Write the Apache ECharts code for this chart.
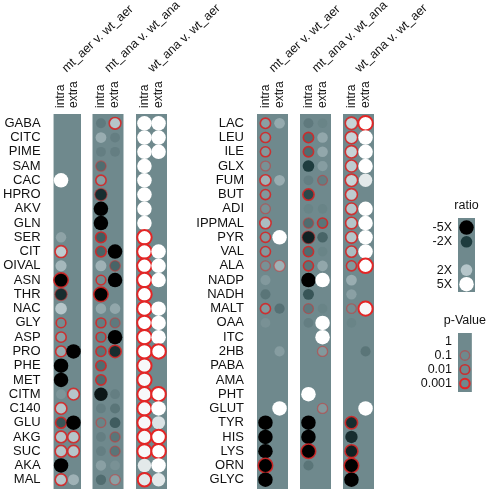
<!DOCTYPE html>
<html><head><meta charset="utf-8">
<script src="https://cdn.jsdelivr.net/npm/echarts@6/dist/echarts.min.js"></script>
<style>html,body{margin:0;padding:0;background:#fff}#c{width:488px;height:490px}</style>
</head><body><div id="c"></div>
<script>
// ---------- categories ----------
const leftRows = ['GABA','CITC','PIME','SAM','CAC','HPRO','AKV','GLN','SER','CIT','OIVAL','ASN','THR','NAC','GLY','ASP','PRO','PHE','MET','CITM','C140','GLU','AKG','SUC','AKA','MAL'];
const rightRows = ['LAC','LEU','ILE','GLX','FUM','BUT','ADI','IPPMAL','PYR','VAL','ALA','NADP','NADH','MALT','OAA','ITC','2HB','PABA','AMA','PHT','GLUT','TYR','HIS','LYS','ORN','GLYC'];
const panelTitles = ['mt_aer v. wt_aer','mt_ana v. wt_ana','wt_ana v. wt_aer'];
const sampleCols = ['intra','extra'];
const ratioLegendLabels = ['-5X','-2X','','2X','5X'];
const ratioLegendValues = [-5,-2,null,2,5];
const pLegendLabels = ['1','0.1','0.01','0.001'];
const pLegendLevels = [0,1,2,3];

// ratio: fold change [intra, extra] (negative = decrease), null = no circle
// p: significance level [intra, extra]: 0 = n.s., 1 = 0.1, 2 = 0.01, 3 = 0.001
const L1_ratio = [[null,null],[null,null],[null,null],[null,null],[5,null],[null,null],[null,null],[null,null],[1.35,null],[2.2,null],[1.7,null],[-5,null],[-2.5,null],[2,null],[1.05,null],[1.3,null],[1.5,-5],[-5,null],[-5,null],[1.15,2],[2,null],[-1.6,-5],[2,2],[2,2],[-5,null],[2,1.6]];
const L1_p     = [[0,0],[0,0],[0,0],[0,0],[0,0],[0,0],[0,0],[0,0],[0,0],[2,0],[0,0],[2,0],[1,0],[0,0],[2,0],[2,0],[2,0],[0,0],[0,0],[0,2],[2,0],[2,0],[2,2],[2,2],[0,0],[2,0]];
const L2_ratio = [[-1.15,2],[1.5,-1.1],[-1.1,-1.1],[-1.3,null],[1.3,null],[-2.5,null],[-5,null],[-5,null],[-1.5,null],[-1.4,-5],[1.6,-1.4],[1.05,-5],[-5,null],[1.4,1.4],[-1.1,-1.15],[-1.1,-5],[-1.2,-2.5],[-1.3,null],[-1.3,null],[-3.5,-1.1],[-1.1,-1.2],[-1.05,-1.5],[-1.1,-1.2],[-1.1,-1.2],[1.3,1.1],[-1.3,1.3]];
const L2_p     = [[0,2],[0,0],[0,0],[1,0],[2,0],[1,0],[0,0],[0,0],[2,0],[2,0],[0,1],[2,0],[2,0],[0,0],[2,1],[2,0],[2,2],[2,0],[2,0],[0,0],[0,0],[1,0],[0,1],[0,1],[0,0],[0,1]];
const L3_ratio = [[5,5],[5,5],[5,5],[5,null],[5,null],[5,null],[5,null],[5,null],[5,null],[5,5],[5,5],[5,5],[5,null],[5,5],[5,5],[5,5],[5,5],[4.5,null],[4.5,null],[4.5,5],[4.5,5],[4.5,3.2],[4.5,5],[4.5,5],[3.5,5],[3.5,3.5]];
const L3_p     = [[0,0],[0,0],[0,0],[0,0],[0,0],[0,0],[0,0],[0,0],[3,0],[3,0],[3,0],[3,0],[3,0],[3,0],[3,0],[3,0],[3,3],[3,0],[3,0],[3,3],[3,0],[3,0],[3,3],[3,3],[0,0],[3,0]];

const R1_ratio = [[1.3,1.45],[1.2,null],[1.2,null],[1.1,null],[1.6,1.5],[1.2,null],[1.1,null],[1.8,null],[1.2,5],[1.2,null],[1.1,1.6],[1.2,null],[-1.2,null],[1.2,-1.25],[1.1,null],[null,null],[null,1.25],[null,null],[null,null],[null,null],[null,5],[-5,null],[-5,null],[-5,null],[-5,null],[-5,null]];
const R1_p     = [[2,0],[2,0],[2,0],[1,0],[2,0],[2,0],[1,0],[2,0],[2,0],[2,0],[1,1],[0,0],[0,0],[2,0],[0,0],[0,0],[0,0],[0,0],[0,0],[0,0],[0,0],[0,0],[0,0],[0,0],[2,0],[0,0]];
const R2_ratio = [[-1.15,-1.05],[-1.3,1.4],[-1.3,1.4],[-2,1.25],[-1.1,-1.1],[-1.8,null],[-1.05,-1.05],[-1.3,-1.2],[-3,-1.4],[-1.3,-1.05],[-1.2,1.4],[-5,5],[-1.6,null],[-1.15,-1.05],[-1.1,5],[null,5],[null,1.2],[null,null],[null,null],[5,null],[null,1.2],[-5,null],[-5,null],[-5,null],[-1.2,null],[null,null]];
const R2_p     = [[0,0],[2,0],[2,0],[0,0],[0,1],[2,0],[0,0],[1,2],[1,0],[2,0],[2,0],[0,0],[0,0],[1,0],[0,0],[0,0],[0,1],[0,0],[0,0],[0,0],[0,1],[0,0],[0,0],[2,0],[0,0],[0,0]];
const R3_ratio = [[2.5,5],[2.5,5],[2.5,5],[2.2,5],[2.5,3.5],[2.2,null],[2,5],[2,5],[2,5],[1.8,5],[1.2,5],[1.5,null],[1.3,null],[1.05,4.5],[-1.05,null],[null,null],[null,-1.2],[null,null],[null,null],[null,null],[null,5],[-2.5,null],[-2.5,null],[-3,null],[-5,null],[-5,null]];
const R3_p     = [[2,3],[2,0],[2,0],[2,0],[2,0],[2,0],[2,0],[2,0],[2,0],[2,0],[2,3],[0,0],[0,0],[1,3],[0,0],[0,0],[0,0],[0,0],[0,0],[0,0],[0,0],[2,0],[0,0],[2,0],[2,0],[0,0]];

// ---------- styling helpers ----------
const BG = [111,137,141];
const BGCSS = 'rgb(' + BG.join(',') + ')';
const stops = [[-1,[0,0,0]],[-0.43,[30,60,62]],[0,BG],[0.43,[182,198,202]],[1,[255,255,255]]];
function tOf(r){ const s = r < 0 ? -1 : 1; return s * Math.min(1, Math.log(Math.abs(r)) / Math.log(5)); }
function colorOf(r){
  const t = tOf(r);
  for (let i = 0; i < stops.length - 1; i++) {
    const [t0,c0] = stops[i], [t1,c1] = stops[i+1];
    if (t >= t0 && t <= t1) {
      const f = (t - t0) / (t1 - t0);
      return 'rgb(' + c0.map((v,k) => Math.round(v + (c1[k]-v)*f)).join(',') + ')';
    }
  }
  return BGCSS;
}
function sizeOf(r){ return 9.5 + 5 * Math.abs(tOf(r)); }
const pBorder = [null, {c:'rgba(214,48,48,0.5)', w:1.3}, {c:'rgba(212,38,38,0.9)', w:1.6}, {c:'#e32626', w:2}];

const TXT = '#111';
const FONT = "'Liberation Sans', Arial, sans-serif";

const panels = [
  {left:50,  rows:leftRows,  ratio:L1_ratio, p:L1_p, title:panelTitles[0], first:true},
  {left:92.5,rows:leftRows,  ratio:L2_ratio, p:L2_p, title:panelTitles[1]},
  {left:136, rows:leftRows,  ratio:L3_ratio, p:L3_p, title:panelTitles[2]},
  {left:257, rows:rightRows, ratio:R1_ratio, p:R1_p, title:panelTitles[0], first:true},
  {left:300, rows:rightRows, ratio:R2_ratio, p:R2_p, title:panelTitles[1]},
  {left:343, rows:rightRows, ratio:R3_ratio, p:R3_p, title:panelTitles[2]}
];
const PW = 31, PTOP = 114, PH = 375;

const grid = [], xAxis = [], yAxis = [], series = [], graphic = [];
const hidden = {splitLine:{show:false}, axisLine:{show:false}, axisTick:{show:false}};

function item(x, y, r, p){
  const b = pBorder[p];
  return {value:[x,y], symbolSize:sizeOf(r),
    itemStyle:{color:colorOf(r), borderColor: b ? b.c : 'transparent', borderWidth: b ? b.w : 0, opacity:1}};
}

panels.forEach((pn, gi) => {
  grid.push({left:pn.left, top:PTOP, width:PW, height:PH, show:true, backgroundColor:BGCSS, borderWidth:0});
  xAxis.push(Object.assign({gridIndex:gi, type:'value', position:'top', min:-0.6, max:1.6,
    axisLabel:{customValues:[0,1], formatter:v => sampleCols[Math.round(v)], rotate:90, margin:6, fontSize:12, color:TXT, fontFamily:FONT}}, hidden));
  const idx = pn.rows.map((_, i) => i);
  yAxis.push(Object.assign({gridIndex:gi, type:'value', inverse:true, min:-0.65, max:25.65,
    axisLabel: pn.first ? {customValues:idx, formatter:v => pn.rows[Math.round(v)], margin:13, fontSize:13, color:TXT, fontFamily:FONT} : {show:false}}, hidden));
  const data = [];
  pn.ratio.forEach((pair, i) => {
    pair.forEach((r, c) => { if (r !== null) data.push(item(c, i, r, pn.p[i][c])); });
  });
  series.push({type:'scatter', xAxisIndex:gi, yAxisIndex:gi, data, silent:true, animation:false});
  // rotated panel heading
  graphic.push({type:'text', x:pn.left + PW/2 + 3, y:75, rotation:43 * Math.PI / 180, silent:true,
    style:{text:pn.title, fontSize:12.5, fontFamily:FONT, fill:TXT, align:'left', verticalAlign:'bottom'}});
});

// ratio legend
let gi = grid.length;
grid.push({left:458, top:218, width:17, height:74, show:true, backgroundColor:BGCSS, borderWidth:0});
xAxis.push(Object.assign({gridIndex:gi, type:'value', position:'top', min:-0.6, max:0.6, axisLabel:{show:false},
  name:'ratio', nameLocation:'middle', nameGap:6, nameTextStyle:{fontSize:12.5, color:TXT, fontFamily:FONT}}, hidden));
yAxis.push(Object.assign({gridIndex:gi, type:'value', inverse:true, min:-0.68, max:4.55,
  axisLabel:{customValues:[0,1,3,4], formatter:v => ratioLegendLabels[Math.round(v)], margin:6, fontSize:12.5, color:TXT, fontFamily:FONT}}, hidden));
series.push({type:'scatter', xAxisIndex:gi, yAxisIndex:gi, silent:true, animation:false,
  data: ratioLegendValues.map((r, i) => r === null ? null : item(0, i, r, 0)).filter(d => d)});

// p-value legend
gi = grid.length;
grid.push({left:458, top:333, width:17, height:59, show:true, backgroundColor:BGCSS, borderWidth:0});
xAxis.push(Object.assign({gridIndex:gi, type:'value', position:'top', min:-0.6, max:0.6, axisLabel:{show:false},
  name:'p-Value', nameLocation:'middle', nameGap:6, nameTextStyle:{fontSize:12.5, color:TXT, fontFamily:FONT}}, hidden));
yAxis.push(Object.assign({gridIndex:gi, type:'value', inverse:true, min:-0.6, max:3.6,
  axisLabel:{customValues:[0,1,2,3], formatter:v => pLegendLabels[Math.round(v)], margin:6, fontSize:12.5, color:TXT, fontFamily:FONT}}, hidden));
series.push({type:'scatter', xAxisIndex:gi, yAxisIndex:gi, silent:true, animation:false,
  data: pLegendLevels.filter(p => p > 0).map(p => item(0, p, 1, p))});

const chart = echarts.init(document.getElementById('c'), null, {renderer:'canvas'});
chart.setOption({animation:false, backgroundColor:'#fff', textStyle:{fontFamily:FONT}, grid, xAxis, yAxis, series, graphic});
</script></body></html>
